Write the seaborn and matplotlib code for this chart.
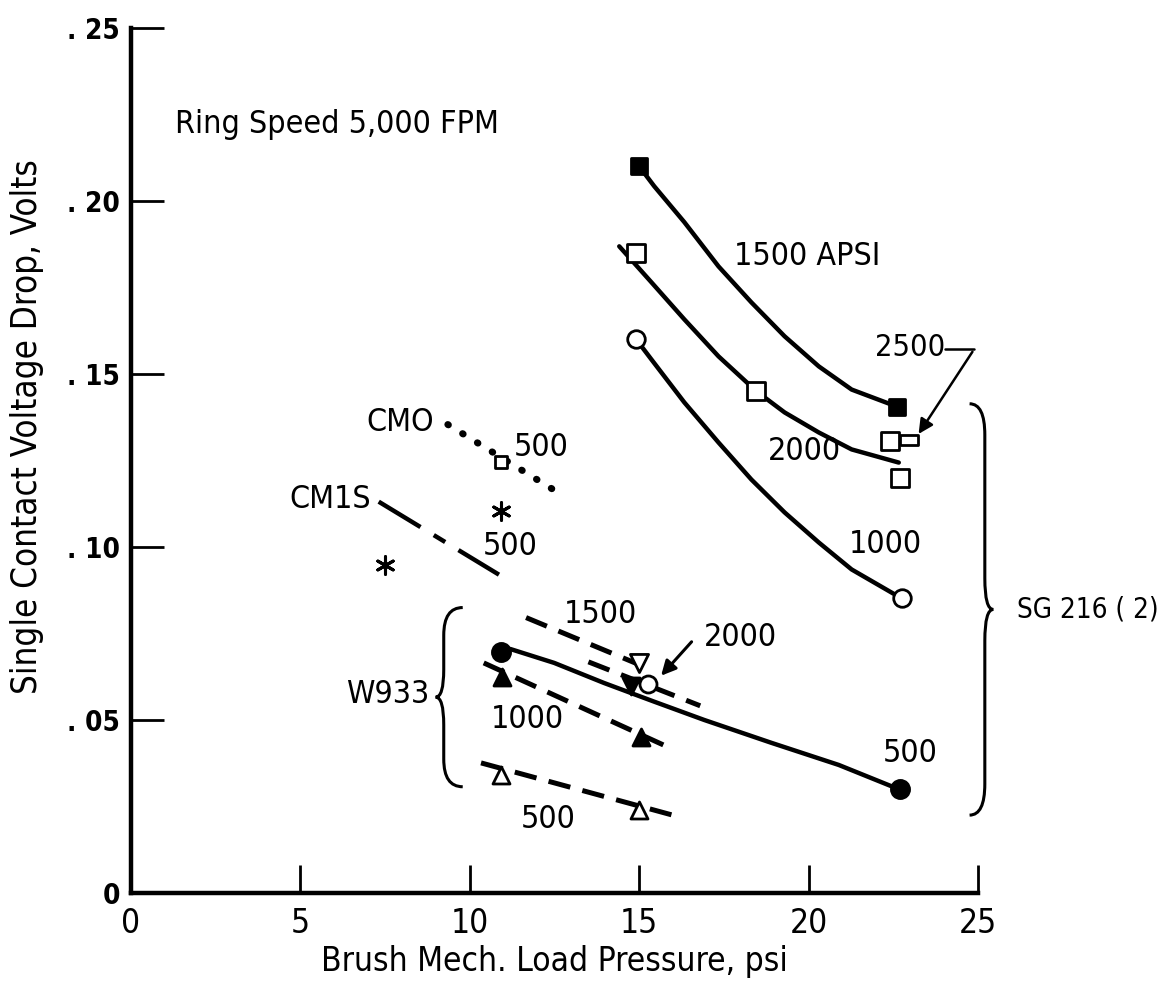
import numpy as np
import matplotlib
matplotlib.use("Agg")
import matplotlib.pyplot as plt
import seaborn as sns
from matplotlib.path import Path
from matplotlib.patches import PathPatch

# === Data (x = load pressure psi, y = volts) ===
# SG 216 (2) curves, ring speed 5,000 FPM
sg1500_x = [15.0, 15.44, 16.33, 17.34, 18.31, 19.29, 20.30, 21.27, 22.6]
sg1500_y = [0.210, 0.2043, 0.1939, 0.1811, 0.1707, 0.1609, 0.1522, 0.1455, 0.1406]
sg1500_pts_x = [15.0, 22.6]
sg1500_pts_y = [0.210, 0.1406]

sg2000_x = [14.41, 15.36, 16.33, 17.34, 18.46, 19.29, 20.30, 21.27, 22.66]
sg2000_y = [0.1869, 0.1765, 0.1658, 0.1551, 0.1450, 0.1389, 0.1331, 0.1282, 0.1244]
sg2000_pts_x = [14.9, 18.46, 22.4, 22.7]
sg2000_pts_y = [0.185, 0.145, 0.1305, 0.120]

sg2500_pts_x = [22.95]
sg2500_pts_y = [0.131]

sg1000_x = [14.91, 15.36, 16.33, 17.34, 18.31, 19.29, 20.30, 21.27, 22.7]
sg1000_y = [0.160, 0.1542, 0.1418, 0.1302, 0.1195, 0.1100, 0.1013, 0.0935, 0.0854]
sg1000_pts_x = [14.91, 22.75]
sg1000_pts_y = [0.160, 0.0854]

# W933
w500_x = [10.92, 11.2, 12.49, 13.96, 15.44, 16.92, 18.9, 20.89, 22.66]
w500_y = [0.0697, 0.0705, 0.0665, 0.0607, 0.0553, 0.0500, 0.0434, 0.0370, 0.0300]
w500_pts_x = [10.92, 22.7]
w500_pts_y = [0.0697, 0.0300]

w1000_x = [10.41, 15.71]
w1000_y = [0.0665, 0.0428]
w1000_pts_x = [10.95, 15.06]
w1000_pts_y = [0.0625, 0.0452]

w1500_x = [11.66, 15.0]
w1500_y = [0.0796, 0.066]
w1500_pts_x = [15.0]
w1500_pts_y = [0.0665]

w2000_x = [13.5, 16.8]
w2000_y = [0.0668, 0.0541]
w2000_pts_x = [15.27]
w2000_pts_y = [0.0605]
w2000_fill_x = [14.76]
w2000_fill_y = [0.0598]

w500d_x = [10.33, 15.95]
w500d_y = [0.0376, 0.0226]
w500d_pts_x = [10.92, 15.0]
w500d_pts_y = [0.0341, 0.024]

# CMO and CM1S
cmo_x = [9.35, 12.46]
cmo_y = [0.1354, 0.1166]
cmo_pts_x = [10.92]
cmo_pts_y = [0.1247]

cm1s_x = [7.31, 10.86]
cm1s_y = [0.1131, 0.092]
star_x = [7.51, 10.92]
star_y = [0.0949, 0.1103]

xticks = [0, 5, 10, 15, 20, 25]
yticks = [0, 0.05, 0.10, 0.15, 0.20, 0.25]
ytick_labels = ["0", ". 05", ". 10", ". 15", ". 20", ". 25"]

# === Style ===
sns.set_style("ticks")
FONT = ["Liberation Sans Narrow", "DejaVu Sans"]
plt.rcParams["font.family"] = FONT
plt.rcParams["font.stretch"] = "condensed"
plt.rcParams["text.color"] = "black"
plt.rcParams["axes.labelcolor"] = "black"

fig = plt.figure(figsize=(11.73, 9.9), dpi=100)
ax = fig.add_axes([0.1117, 0.098, 0.7221, 0.8737])

K = "black"

# === Lines ===
sns.lineplot(x=sg1500_x, y=sg1500_y, ax=ax, color=K, lw=3.2, sort=False)
sns.lineplot(x=sg2000_x, y=sg2000_y, ax=ax, color=K, lw=3.2, sort=False)
sns.lineplot(x=sg1000_x, y=sg1000_y, ax=ax, color=K, lw=3.2, sort=False)
sns.lineplot(x=w500_x, y=w500_y, ax=ax, color=K, lw=3.2, sort=False)

dash = (0, (4.5, 2.5))
sns.lineplot(x=w1000_x, y=w1000_y, ax=ax, color=K, lw=3.6, linestyle=dash)
sns.lineplot(x=w1500_x, y=w1500_y, ax=ax, color=K, lw=3.6, linestyle=dash)
sns.lineplot(x=w2000_x, y=w2000_y, ax=ax, color=K, lw=3.6, linestyle=dash)
sns.lineplot(x=w500d_x, y=w500d_y, ax=ax, color=K, lw=3.6, linestyle=dash)

sns.lineplot(x=cmo_x, y=cmo_y, ax=ax, color=K, lw=5, linestyle=(0, (0.1, 2.4)),
             solid_capstyle="round", dash_capstyle="round")
sns.lineplot(x=cm1s_x, y=cm1s_y, ax=ax, color=K, lw=3.2,
             linestyle=(0, (11, 3.5, 3, 3.5)))

# === Markers ===
def pts(x, y, marker, filled, s=150):
    sns.scatterplot(x=x, y=y, ax=ax, marker=marker, s=s,
                    color=K if filled else "white", edgecolor=K,
                    linewidth=2, zorder=5, clip_on=False)

pts(sg1500_pts_x, sg1500_pts_y, "s", True, 140)
pts(sg2000_pts_x, sg2000_pts_y, "s", False, 170)
flat = [(-1, -0.55), (1, -0.55), (1, 0.55), (-1, 0.55), (-1, -0.55)]
pts(sg2500_pts_x, sg2500_pts_y, flat, False, 170)
pts(sg1000_pts_x, sg1000_pts_y, "o", False, 160)
pts(w500_pts_x, w500_pts_y, "o", True, 170)
pts(w1000_pts_x, w1000_pts_y, "^", True, 150)
pts(w1500_pts_x, w1500_pts_y, "v", False, 170)
pts(w2000_pts_x, w2000_pts_y, "o", False, 150)
pts(w2000_fill_x, w2000_fill_y, "v", True, 150)
pts(w500d_pts_x, w500d_pts_y, "^", False, 150)
pts(cmo_pts_x, cmo_pts_y, "s", False, 80)
sns.scatterplot(x=star_x, y=star_y, ax=ax, marker=(6, 2, 0), s=160,
                color=K, linewidth=2.2, zorder=5)

# === Annotations ===
tkw = dict(color=K, va="center", family=FONT, stretch="condensed")
ax.text(1.3, 0.2222, "Ring Speed 5,000 FPM", ha="left", fontsize=23, **tkw)
ax.text(17.8, 0.184, "1500 APSI", ha="left", fontsize=23, **tkw)
ax.text(21.95, 0.1577, "2500", ha="left", fontsize=22, **tkw)
ax.text(18.8, 0.1276, "2000", ha="left", fontsize=23, **tkw)
ax.text(21.2, 0.1007, "1000", ha="left", fontsize=23, **tkw)
ax.text(8.93, 0.136, "CMO", ha="right", fontsize=23, **tkw)
ax.text(11.3, 0.1288, "500", ha="left", fontsize=23, **tkw)
ax.text(7.07, 0.1137, "CM1S", ha="right", fontsize=23, **tkw)
ax.text(10.38, 0.1001, "500", ha="left", fontsize=23, **tkw)
ax.text(8.79, 0.0573, "W933", ha="right", fontsize=23, **tkw)
ax.text(12.78, 0.0804, "1500", ha="left", fontsize=23, **tkw)
ax.text(16.92, 0.0738, "2000", ha="left", fontsize=23, **tkw)
ax.text(10.62, 0.050, "1000", ha="left", fontsize=23, **tkw)
ax.text(11.5, 0.0211, "500", ha="left", fontsize=23, **tkw)
ax.text(22.2, 0.0402, "500", ha="left", fontsize=23, **tkw)
ax.text(26.15, 0.0819, "SG 216 ( 2)", ha="left", fontsize=20, clip_on=False, **tkw)

# 2500 leader and arrow
ax.plot([24.02, 24.88], [0.1571, 0.1571], color=K, lw=1.8, clip_on=False)
ax.annotate("", xy=(23.2, 0.132), xytext=(24.88, 0.1571),
            arrowprops=dict(arrowstyle="-|>", color=K, lw=1.8, mutation_scale=22),
            annotation_clip=False)
# 2000 (W933) arrow
ax.annotate("", xy=(15.59, 0.0622), xytext=(16.6, 0.0732),
            arrowprops=dict(arrowstyle="-|>", color=K, lw=2.2, mutation_scale=22))


def brace(x_line, x_hook, x_tip, y_top, y_bot, r):
    y_mid = (y_top + y_bot) / 2
    verts = [
        (x_hook, y_top), (x_line, y_top), (x_line, y_top - r),
        (x_line, y_mid + r), (x_line, y_mid), (x_tip, y_mid),
        (x_line, y_mid), (x_line, y_mid - r),
        (x_line, y_bot + r), (x_line, y_bot), (x_hook, y_bot),
    ]
    codes = [Path.MOVETO, Path.CURVE3, Path.CURVE3,
             Path.LINETO, Path.CURVE3, Path.CURVE3,
             Path.CURVE3, Path.CURVE3,
             Path.LINETO, Path.CURVE3, Path.CURVE3]
    ax.add_patch(PathPatch(Path(verts, codes), fill=False, lw=2.2,
                           edgecolor=K, clip_on=False))


brace(25.2, 24.75, 25.45, 0.1414, 0.0225, 0.009)
brace(9.23, 9.79, 8.99, 0.0825, 0.0307, 0.008)

# === Axes ===
ax.set_xlim(0, 25)
ax.set_ylim(0, 0.25)
ax.set_xticks(xticks)
ax.set_xticklabels([str(v) for v in xticks])
ax.set_yticks(yticks)
ax.set_yticklabels(ytick_labels, family="DejaVu Sans", fontweight="bold",
                   fontsize=20)
for lab in ax.get_xticklabels():
    lab.set_fontsize(24)
ax.tick_params(axis="both", direction="in", width=2, colors=K)
ax.tick_params(axis="x", length=20, pad=10)
ax.tick_params(axis="y", length=24, pad=8)
sns.despine(ax=ax, top=True, right=True)
for s in ["left", "bottom"]:
    ax.spines[s].set_linewidth(3.2)
    ax.spines[s].set_color(K)

ax.set_xlabel("Brush Mech. Load Pressure, psi", fontsize=24, labelpad=4)
ax.set_ylabel("Single Contact Voltage Drop, Volts", fontsize=25)
ax.yaxis.set_label_coords(-0.103, 0.539)

fig.savefig("out.png", dpi=100)
